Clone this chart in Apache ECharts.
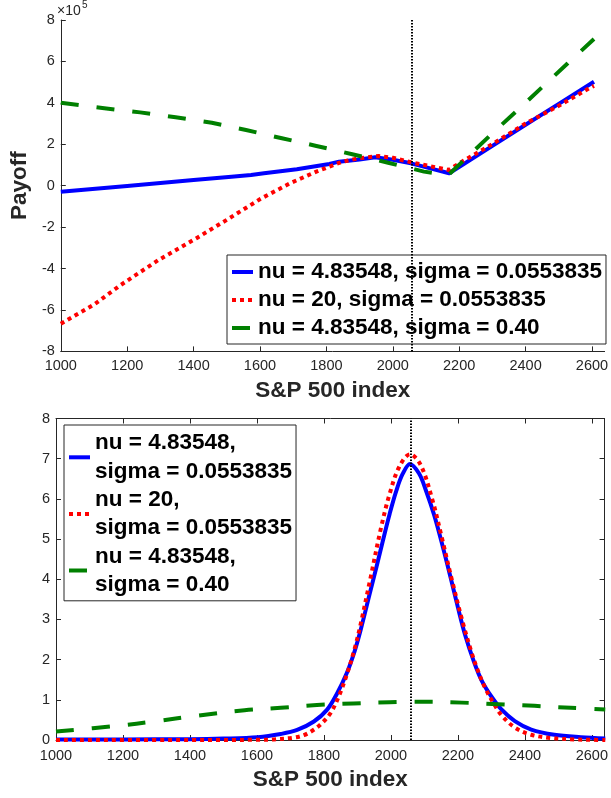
<!DOCTYPE html>
<html>
<head>
<meta charset="utf-8">
<script src="https://cdn.jsdelivr.net/npm/echarts@6/dist/echarts.min.js"></script>
<style>
html,body{margin:0;padding:0;background:#fff;}
#c{width:611px;height:798px;}
</style>
</head>
<body>
<div id="c"></div>
<script>
// ---- data (payoff in units of 1e5; density as plotted) ----
const payoffNu483Sig055 = [[1000,-0.29],[1200,-0.01],[1400,0.27],[1514,0.43],[1573,0.52],[1612,0.60],[1711,0.79],[1809,1.05],[1838,1.16],[1900,1.27],[1947,1.37],[2000,1.25],[2055,1.08],[2110,0.85],[2170,0.60],[2300,1.92],[2400,2.94],[2500,3.95],[2606,5.02]];
const payoffNu20Sig055 = [[1000,-6.67],[1100,-5.74],[1180,-4.80],[1295,-3.58],[1410,-2.52],[1502,-1.63],[1602,-0.63],[1691,0.12],[1770,0.68],[1848,1.16],[1900,1.33],[1957,1.43],[2000,1.35],[2055,1.13],[2110,0.95],[2168,0.76],[2212,1.20],[2300,2.01],[2400,3.00],[2500,3.86],[2591,4.70],[2606,4.82]];
const payoffNu483Sig040 = [[1000,4.00],[1131,3.74],[1239,3.54],[1346,3.30],[1455,3.04],[1558,2.69],[1666,2.29],[1770,1.92],[1878,1.52],[1986,1.11],[2094,0.68],[2130,0.60],[2170,0.56],[2300,2.53],[2400,4.01],[2527,5.91],[2606,7.08]];

const densNu483Sig055 = [[1000,0.01],[1200,0.015],[1400,0.02],[1500,0.035],[1602,0.07],[1671,0.15],[1720,0.25],[1770,0.46],[1809,0.75],[1838,1.14],[1868,1.66],[1892,2.22],[1910,2.75],[1937,3.65],[1957,4.31],[1976,4.96],[1996,5.62],[2016,6.20],[2035,6.62],[2057,6.87],[2084,6.63],[2104,6.22],[2129,5.60],[2153,4.87],[2178,4.05],[2200,3.30],[2222,2.60],[2247,1.97],[2271,1.48],[2301,1.07],[2330,0.76],[2370,0.47],[2419,0.26],[2488,0.13],[2567,0.07],[2640,0.04]];
const densNu20Sig055 = [[1000,0],[1400,0],[1600,0.005],[1651,0.015],[1711,0.06],[1740,0.12],[1765,0.23],[1789,0.38],[1819,0.66],[1843,1.06],[1868,1.62],[1892,2.28],[1909,2.86],[1937,3.95],[1971,5.30],[1996,6.12],[2025,6.80],[2057,7.11],[2089,6.84],[2124,5.97],[2153,5.00],[2183,3.95],[2217,2.85],[2240,2.20],[2257,1.78],[2281,1.30],[2306,0.92],[2330,0.62],[2370,0.31],[2419,0.13],[2478,0.05],[2547,0.015],[2600,0.004],[2640,0]];
const densNu483Sig040 = [[1000,0.21],[1180,0.35],[1300,0.47],[1425,0.61],[1563,0.74],[1671,0.80],[1779,0.87],[1888,0.91],[1996,0.94],[2058,0.95],[2104,0.95],[2212,0.93],[2320,0.89],[2429,0.85],[2537,0.80],[2640,0.76]];

const spotIndex = 2058;
const topNames = ['nu = 4.83548, sigma = 0.0553835','nu = 20, sigma = 0.0553835','nu = 4.83548, sigma = 0.40'];
const bottomNames = ['nu = 4.83548,\nsigma = 0.0553835','nu = 20,\nsigma = 0.0553835','nu = 4.83548,\nsigma = 0.40'];
const xLabel = 'S&P 500 index';
const yLabelTop = 'Payoff';

// ---- styles ----
const FONT = 'Liberation Sans, Arial, Helvetica, sans-serif';
const AX = '#262626';
const styles = [
  {color:'#0000ff', type:'solid'},
  {color:'#ff0000', type:[4,4]},
  {color:'#008000', type:[18,18]}
];

function xAxisCfg(gridIndex, nameGap, labelMargin){
  return {
    type:'value', gridIndex, min:1000, max:2638, interval:200,
    name:xLabel, nameLocation:'middle', nameGap,
    nameTextStyle:{fontFamily:FONT, fontSize:22.5, fontWeight:'bold', color:AX},
    axisLine:{show:true, onZero:false, lineStyle:{color:AX, width:1}},
    axisTick:{show:true, inside:true, length:5, lineStyle:{color:AX}},
    axisLabel:{fontFamily:FONT, fontSize:14.5, color:AX, margin:labelMargin, showMaxLabel:false,
      formatter:v => (v % 200 === 0 ? String(v) : '')},
    splitLine:{show:false}
  };
}
function boxAxis(gridIndex, position, min, max, interval){
  return {
    type:'value', gridIndex, position, min, max, interval,
    axisLine:{show:true, onZero:false, lineStyle:{color:AX, width:1}},
    axisTick:{show:true, inside:true, length:5, lineStyle:{color:AX}},
    axisLabel:{show:false}, splitLine:{show:false}
  };
}
function legendCfg(names, left, top, padding, lineHeight){
  return {
    orient:'vertical', left, top, padding, itemGap:0,
    itemWidth:21, itemHeight:14,
    backgroundColor:'#fff', borderColor:AX, borderWidth:1,
    textStyle:{fontFamily:FONT, fontSize:22.5, fontWeight:'bold', color:'#000', lineHeight},
    lineStyle:{width:4},
    itemStyle:{opacity:0},
    selectedMode:false,
    data:names.map(n => ({name:n}))
  };
}
function lineSeries(name, data, idx, xAxisIndex, yAxisIndex, smooth){
  return {
    type:'line', name, data, xAxisIndex, yAxisIndex,
    showSymbol:false, symbol:'none', smooth, animation:false, silent:true,
    lineStyle:{color:styles[idx].color, width:4, type:styles[idx].type, cap:'butt', join:'round'},
    itemStyle:{color:styles[idx].color},
    z: 2 + idx
  };
}
function vline(xAxisIndex, yAxisIndex){
  return {
    type:'line', data:[], xAxisIndex, yAxisIndex, silent:true, animation:false,
    markLine:{silent:true, symbol:['none','none'], label:{show:false},
      lineStyle:{color:'#000', width:2, type:[1.5,1.5]},
      data:[{xAxis:spotIndex}]},
    z: 6
  };
}

const chart = echarts.init(document.getElementById('c'), null, {renderer:'canvas'});
chart.setOption({
  backgroundColor:'#fff',
  animation:false,
  grid:[
    {left:56, top:20, width:555, height:331.4},
    {left:56, top:418.5, width:555, height:321.5}
  ],
  xAxis:[
    xAxisCfg(0, 28, 7),
    xAxisCfg(1, 28, 8),
    boxAxis(1, 'top', 1000, 2638, 200)
  ],
  yAxis:[
    {type:'value', gridIndex:0, min:-8, max:8, interval:2,
      name:yLabelTop, nameLocation:'middle', nameGap:19,
      nameTextStyle:{fontFamily:FONT, fontSize:22.5, fontWeight:'bold', color:AX},
      axisLine:{show:true, onZero:false, lineStyle:{color:AX, width:1}},
      axisTick:{show:true, inside:true, length:5, lineStyle:{color:AX}},
      axisLabel:{fontFamily:FONT, fontSize:14.5, color:AX, margin:6},
      splitLine:{show:false}},
    {type:'value', gridIndex:1, min:0, max:8, interval:1,
      axisLine:{show:true, onZero:false, lineStyle:{color:AX, width:1}},
      axisTick:{show:true, inside:true, length:5, lineStyle:{color:AX}},
      axisLabel:{fontFamily:FONT, fontSize:14.5, color:AX, margin:6},
      splitLine:{show:false}},
    boxAxis(1, 'right', 0, 8, 1)
  ],
  legend:[
    legendCfg(topNames, 227, 255, [3,4,2,3], 28),
    legendCfg(bottomNames, 64, 425, [4,4,2,3], 28.3)
  ],
  graphic:[
    {type:'text', left:57, top:4, style:{text:'×10', font:'14px '+FONT, fill:AX}},
    {type:'text', left:82, top:0, style:{text:'5', font:'10px '+FONT, fill:AX}}
  ],
  series:[
    lineSeries(topNames[0], payoffNu483Sig055, 0, 0, 0, false),
    lineSeries(topNames[1], payoffNu20Sig055, 1, 0, 0, false),
    lineSeries(topNames[2], payoffNu483Sig040, 2, 0, 0, false),
    vline(0, 0),
    lineSeries(bottomNames[0], densNu483Sig055, 0, 1, 1, 0.35),
    lineSeries(bottomNames[1], densNu20Sig055, 1, 1, 1, 0.35),
    lineSeries(bottomNames[2], densNu483Sig040, 2, 1, 1, 0.35),
    vline(1, 1)
  ]
});
</script>
</body>
</html>
